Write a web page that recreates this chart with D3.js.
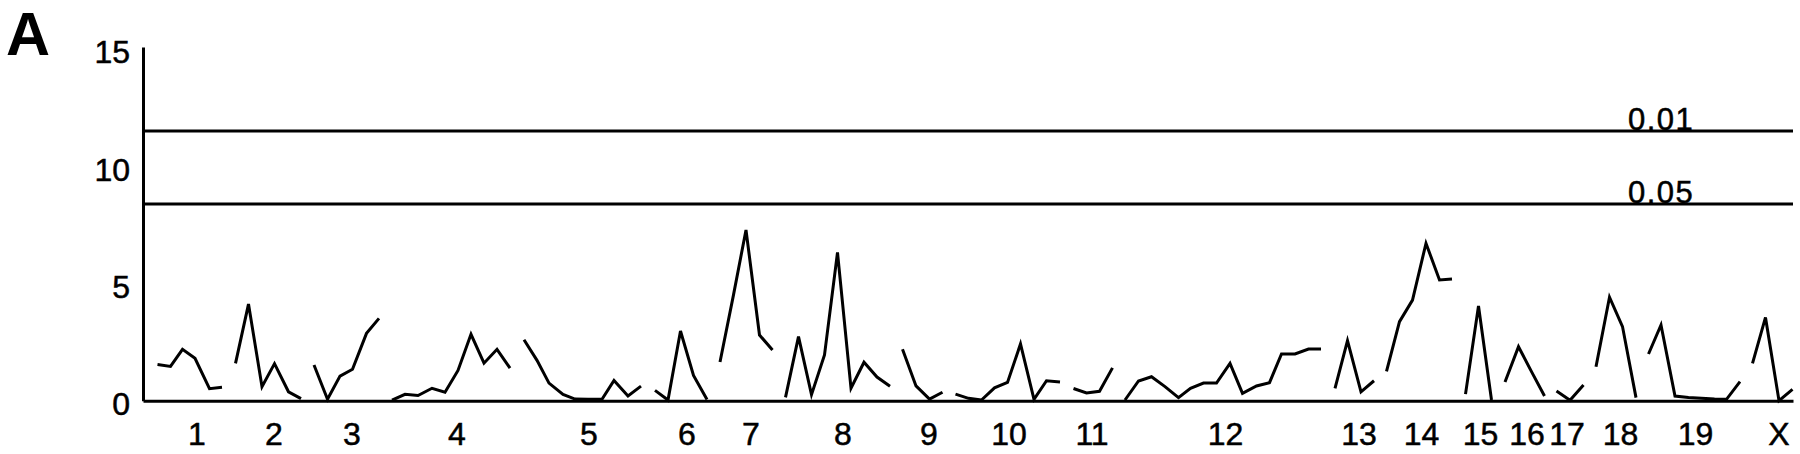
<!DOCTYPE html>
<html>
<head>
<meta charset="utf-8">
<script src="https://cdn.jsdelivr.net/npm/d3@7"></script>
<style>
  body { margin: 0; background: #fff; }
  svg { display: block; font-family: "Liberation Sans", Arial, Helvetica, sans-serif; }
</style>
</head>
<body>
<svg width="1800" height="454"></svg>
<script>
// Genome scan data, one entry per marker (chromosome, map position, LOD score)
const markerChr = [
  "1","1","1","1","1","1",
  "2","2","2","2","2","2",
  "3","3","3","3","3","3",
  "4","4","4","4","4","4","4","4","4","4",
  "5","5","5","5","5","5","5","5","5","5",
  "6","6","6","6","6",
  "7","7","7","7","7",
  "8","8","8","8","8","8","8","8","8",
  "9","9","9","9",
  "10","10","10","10","10","10","10","10","10",
  "11","11","11","11",
  "12","12","12","12","12","12","12","12","12","12","12","12","12","12","12","12",
  "13","13","13","13",
  "14","14","14","14","14","14",
  "15","15","15",
  "16","16","16","16",
  "17","17","17",
  "18","18","18","18",
  "19","19","19","19","19","19","19","19",
  "X","X","X","X"
];
const markerPos = [
  2.9, 5.5, 7.9, 10.4, 13.3, 15.8,
  18.5, 21.1, 23.8, 26.3, 29.1, 31.6,
  34.2, 36.9, 39.4, 41.9, 44.7, 47.2,
  49.8, 52.4, 55.0, 57.8, 60.4, 63.0, 65.6, 68.2, 70.8, 73.4,
  76.2, 78.8, 81.2, 84.0, 86.4, 89.0, 91.8, 94.2, 97.0, 99.6,
  102.4, 105.0, 107.5, 110.1, 112.8,
  115.4, 118.1, 120.6, 123.3, 125.9,
  128.5, 131.1, 133.7, 136.3, 138.9, 141.6, 144.2, 146.8, 149.4,
  151.9, 154.6, 157.3, 159.9,
  162.5, 165.1, 167.7, 170.3, 172.9, 175.5, 178.2, 180.7, 183.4,
  186.1, 188.7, 191.3, 193.9,
  196.4, 199.1, 201.7, 204.4, 207.1, 209.5, 212.1, 214.7, 217.4, 219.9, 222.7, 225.3, 227.7, 230.4, 233.1, 235.6,
  238.4, 240.9, 243.6, 246.2,
  248.7, 251.3, 253.9, 256.6, 259.3, 261.8,
  264.5, 267.1, 269.7,
  272.4, 275.1, 277.7, 280.3,
  282.7, 285.4, 288.1,
  290.6, 293.3, 295.9, 298.6,
  301.1, 303.6, 306.4, 309.1, 311.7, 314.3, 316.7, 319.4,
  321.9, 324.5, 327.2, 329.9
];
const markerLod = [
  1.54, 1.46, 2.19, 1.81, 0.51, 0.57,
  1.59, 4.12, 0.60, 1.58, 0.38, 0.09,
  1.52, 0.06, 1.05, 1.34, 2.87, 3.51,
  0.02, 0.27, 0.22, 0.53, 0.36, 1.29, 2.83, 1.60, 2.19, 1.39,
  2.60, 1.72, 0.75, 0.27, 0.07, 0.06, 0.06, 0.86, 0.20, 0.62,
  0.44, 0.03, 2.97, 1.08, 0.05,
  1.65, 4.51, 7.28, 2.80, 2.16,
  0.14, 2.73, 0.26, 1.95, 6.32, 0.53, 1.64, 1.01, 0.62,
  2.19, 0.63, 0.07, 0.36,
  0.28, 0.10, 0.03, 0.55, 0.78, 2.42, 0.06, 0.85, 0.80,
  0.52, 0.33, 0.40, 1.40,
  0.03, 0.84, 1.02, 0.60, 0.13, 0.53, 0.75, 0.75, 1.59, 0.31, 0.63, 0.77, 1.99, 1.99, 2.20, 2.20,
  0.53, 2.56, 0.38, 0.85,
  1.25, 3.37, 4.29, 6.71, 5.15, 5.19,
  0.28, 4.04, 0.03,
  0.80, 2.30, 1.24, 0.20,
  0.41, 0.02, 0.67,
  1.45, 4.41, 3.16, 0.13,
  1.99, 3.23, 0.20, 0.14, 0.10, 0.07, 0.06, 0.81,
  1.59, 3.55, 0.00, 0.48
];

// chromosome labels under the axis
const chrNames = ["1","2","3","4","5","6","7","8","9","10","11","12","13","14","15","16","17","18","19","X"];
const chrLabelPos = [10.7, 26.1, 41.7, 62.7, 89.1, 108.7, 121.5, 139.9, 157.1, 173.1, 189.7, 216.4, 243.1, 255.6, 267.4, 276.7, 284.7, 295.4, 310.4, 327.1];

// significance thresholds
const thresholdLod = [11.5, 8.39];
const thresholdLabels = ["0.01", "0.05"];
const thresholdLabelPos = 297;

// y axis ticks
const yTicks = [0, 5, 10, 15];

// select the svg container
const svg = d3.select("svg");

// scales
const x = d3.scaleLinear()
  .domain([0, 330])
  .range([143, 1793]);

const y = d3.scaleLinear()
  .domain([0, 15.08])
  .range([400.7, 47]);

// panel letter
svg.append("text")
  .attr("x", 6)
  .attr("y", 55)
  .attr("font-size", 61)
  .attr("font-weight", "bold")
  .text("A");

// threshold lines
svg.selectAll("line.threshold")
  .data(thresholdLod)
  .enter()
  .append("line")
  .attr("class", "threshold")
  .attr("x1", x(0))
  .attr("x2", x(330))
  .attr("y1", d => y(d))
  .attr("y2", d => y(d))
  .attr("stroke", "#000")
  .attr("stroke-width", 3);

svg.selectAll("text.threshold")
  .data(thresholdLod)
  .enter()
  .append("text")
  .attr("class", "threshold")
  .attr("x", x(thresholdLabelPos))
  .attr("y", d => y(d) - 1)
  .attr("font-size", 31)
  .attr("letter-spacing", 1.5)
  .attr("stroke", "#000")
  .attr("stroke-width", 0.5)
  .text((d, i) => thresholdLabels[i]);

// y axis
const yAxis = d3.axisLeft(y)
  .tickValues(yTicks)
  .tickSizeInner(0)
  .tickSizeOuter(0)
  .tickPadding(13);

const yAxisGroup = svg.append("g")
  .attr("transform", `translate(${x(0)},0)`)
  .call(yAxis);

yAxisGroup.select(".domain").attr("stroke-width", 3);
yAxisGroup.selectAll("text")
  .attr("font-size", 32)
  .attr("font-family", "Liberation Sans, Arial, sans-serif")
  .attr("fill", "#000")
  .attr("stroke", "#000")
  .attr("stroke-width", 0.5)
  .attr("dy", 14);

// x axis with chromosome names
const xAxis = d3.axisBottom(x)
  .tickValues(chrLabelPos)
  .tickFormat((d, i) => chrNames[i])
  .tickSizeInner(0)
  .tickSizeOuter(0)
  .tickPadding(21.6);

const xAxisGroup = svg.append("g")
  .attr("transform", `translate(0,${y(0)})`)
  .call(xAxis);

xAxisGroup.select(".domain").attr("stroke-width", 3);
xAxisGroup.selectAll("text")
  .attr("font-size", 32)
  .attr("font-family", "Liberation Sans, Arial, sans-serif")
  .attr("fill", "#000")
  .attr("stroke", "#000")
  .attr("stroke-width", 0.5);

// build markers and group them per chromosome
const markers = markerChr.map((c, i) => ({chr: c, pos: markerPos[i], lod: markerLod[i]}));
const byChr = Array.from(d3.group(markers, d => d.chr).values());

const line = d3.line()
  .x(d => x(d.pos))
  .y(d => y(d.lod));

svg.selectAll("path.lod")
  .data(byChr)
  .enter()
  .append("path")
  .attr("class", "lod")
  .attr("d", line)
  .attr("fill", "none")
  .attr("stroke", "#000")
  .attr("stroke-width", 3)
  .attr("stroke-linejoin", "miter");
</script>
</body>
</html>
